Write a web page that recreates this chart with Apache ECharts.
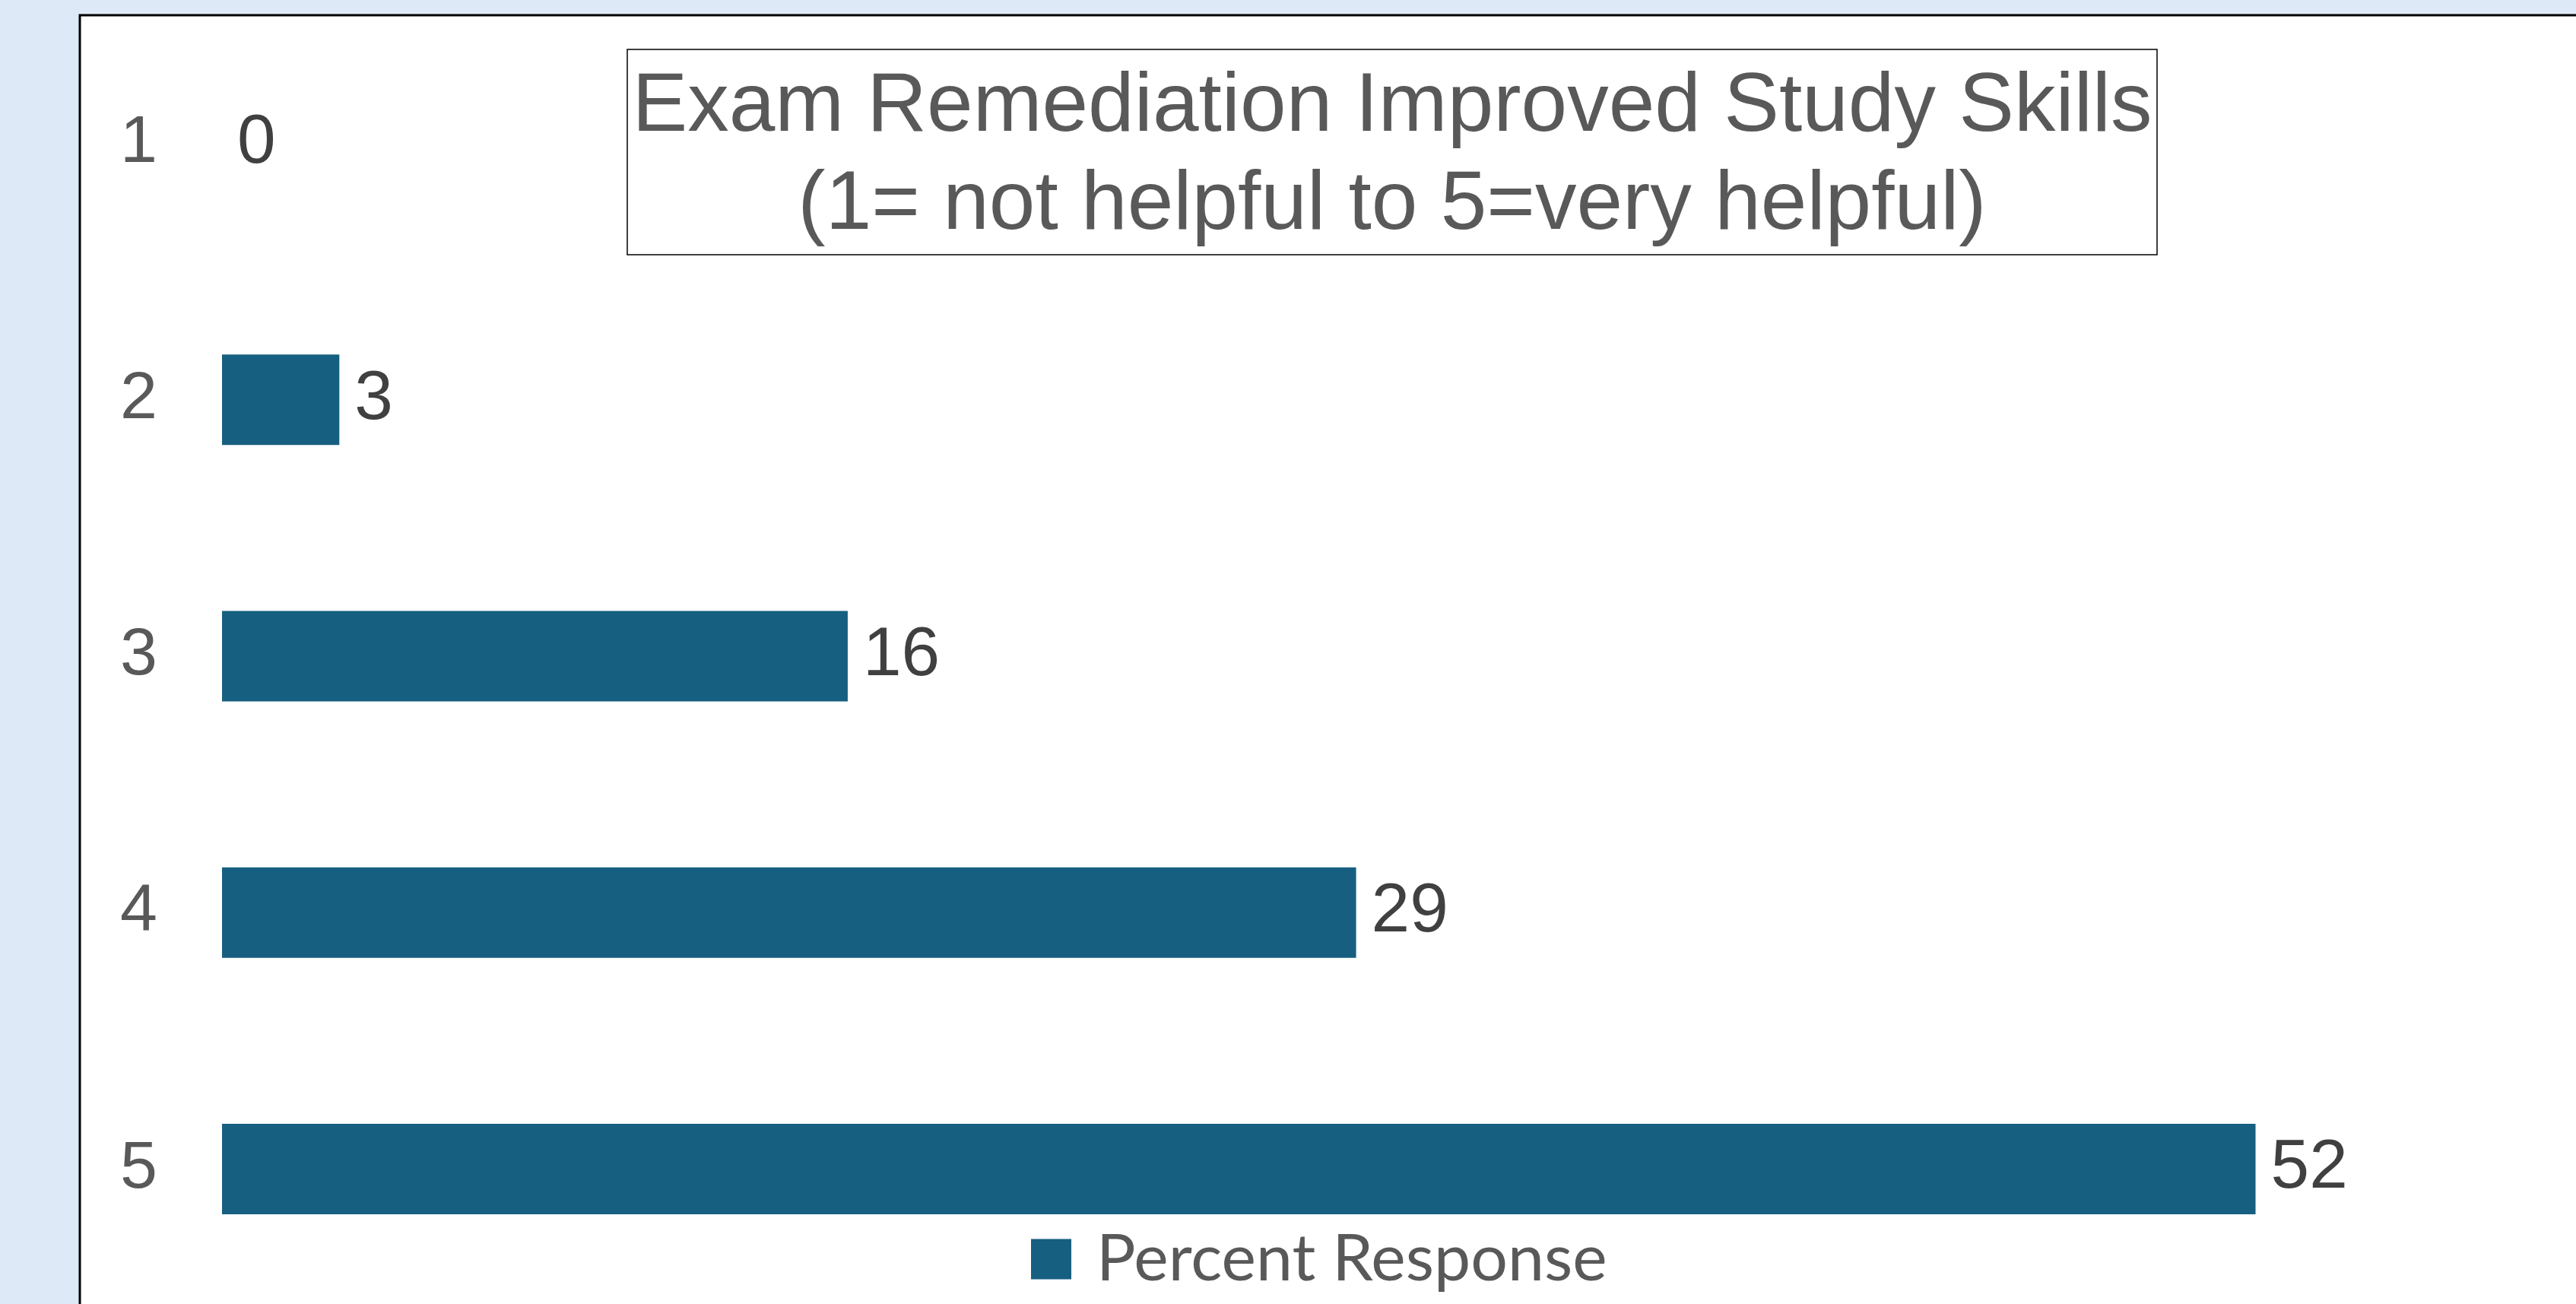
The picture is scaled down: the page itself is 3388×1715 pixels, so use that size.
<!DOCTYPE html>
<html><head><meta charset="utf-8">
<script src="https://cdn.jsdelivr.net/npm/echarts@6/dist/echarts.min.js"></script>
<style>html,body{margin:0;padding:0;background:#dde9f6}#c{width:3388px;height:1715px}</style>
</head><body><div id="c"></div>
<script>
const categories = ['1', '2', '3', '4', '5'];
const percentResponse = [0, 3, 16, 29, 52];
const seriesName = 'Percent Response';
const titleLines = ['Exam Remediation Improved Study Skills', '(1= not helpful to 5=very helpful)'];

const chart = echarts.init(document.getElementById('c'));
chart.setOption({
  backgroundColor: '#dde9f6',
  animation: false,
  graphic: [
    { type: 'rect', z: -10, shape: { x: 105, y: 20, width: 3400, height: 1800 },
      style: { fill: '#ffffff', stroke: '#000000', lineWidth: 3 } },
    { type: 'rect', z: -5, shape: { x: 825, y: 65, width: 2012, height: 270 },
      style: { fill: '#ffffff', stroke: '#000000', lineWidth: 1.5 } }
  ],
  title: {
    text: titleLines.join('\n'),
    left: 1831, top: 77, textAlign: 'center', padding: 0,
    textStyle: { fontFamily: 'Liberation Sans', fontSize: 109, fontWeight: 'normal', color: '#595959', lineHeight: 129 }
  },
  legend: {
    data: [seriesName], left: 1356, top: 1613, itemWidth: 53, itemHeight: 53, padding: 0,
    icon: 'rect',
    textStyle: { fontFamily: 'Lato', fontSize: 86, color: '#595959', padding: [0, 0, 0, 28] }
  },
  grid: { left: 292, right: 10, top: 20, bottom: 9, containLabel: false },
  xAxis: { type: 'value', min: 0, max: 60, show: false },
  yAxis: {
    type: 'category', data: categories, inverse: true,
    axisLine: { show: false }, axisTick: { show: false }, splitLine: { show: false },
    axisLabel: { margin: 85, fontFamily: 'Liberation Sans', fontSize: 88, color: '#595959' }
  },
  series: [{
    name: seriesName, type: 'bar', data: percentResponse, barCategoryGap: '64.7%',
    itemStyle: { color: '#175f80' },
    label: { show: true, position: 'right', distance: 20, fontFamily: 'Liberation Sans', fontSize: 91, color: '#404040' }
  }]
});
</script></body></html>
